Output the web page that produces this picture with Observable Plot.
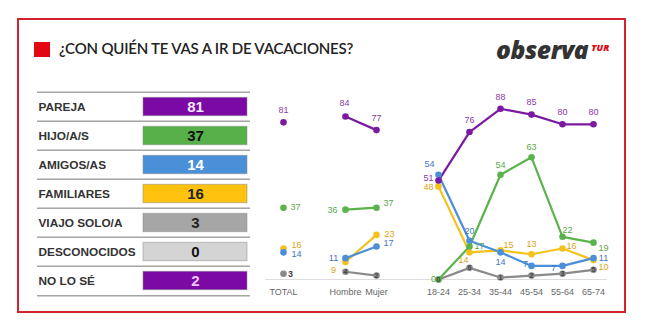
<!DOCTYPE html>
<html><head><meta charset="utf-8">
<script src="https://cdn.jsdelivr.net/npm/d3@7"></script>
<script src="https://cdn.jsdelivr.net/npm/@observablehq/plot@0.6"></script>
<style>
body{margin:0;width:656px;height:330px;position:relative;background:#fff;overflow:hidden;font-family:"Liberation Sans",Arial,sans-serif}
#frame{position:absolute;left:17px;top:18px;width:605px;height:291px;border:2px solid #d3222a}
#sq{position:absolute;left:34px;top:42px;width:16px;height:15px;background:#e30613}
#title{position:absolute;left:59px;top:39px;font-family:Lato,"Open Sans",sans-serif;font-size:15px;font-weight:600;color:#222;letter-spacing:-0.2px}
#logo{position:absolute;left:496px;top:33px;font-family:"Open Sans",sans-serif;font-style:italic;font-weight:800;font-size:24.5px;color:#333;letter-spacing:-0.4px}
#logo span{font-size:9.5px;color:#e30613;vertical-align:8px;margin-left:3px;letter-spacing:0}
#left{position:absolute;left:35px;top:87px}
#right{position:absolute;left:260px;top:80px}
</style></head>
<body>
<div id="frame"></div>
<div id="sq"></div>
<div id="title">¿CON QUIÉN TE VAS A IR DE VACACIONES?</div>
<div id="logo">observa<span>TUR</span></div>
<div id="left"></div>
<div id="right"></div>
<script>
// ---- data ----
const categories = ["PAREJA","HIJO/A/S","AMIGOS/AS","FAMILIARES","VIAJO SOLO/A","DESCONOCIDOS","NO LO SÉ"];
const totals = [81,37,14,16,3,0,2];
const groups = ["TOTAL","Hombre","Mujer","18-24","25-34","35-44","45-54","55-64","65-74"];
const pareja     = [81,84,77,51,76,88,85,80,80];
const hijos      = [37,36,37,0,17,54,63,22,19];
const amigos     = [14,11,17,54,20,14,7,7,11];
const familiares = [16,9,23,48,14,15,13,16,10];
const solo       = [3,4,2,0,6,1,2,3,5];

// ---- styles ----
const barColors = ["#7b0aa5","#57b04a","#4a90d9","#ffc20e","#a6a6a6","#d4d4d4","#7b0aa5"];
const barText = ["#f6e6ff","#111","#ffffff","#222","#222","#111","#f2c9ff"];
const lineColors = {"PAREJA":"#7a1aa0","HIJO/A/S":"#5bb34c","AMIGOS/AS":"#4a8fd8","FAMILIARES":"#f5c21b","VIAJO SOLO/A":"#8a8a8a"};
const labelColors = {"PAREJA":"#8a3aaa","HIJO/A/S":"#5aa84c","AMIGOS/AS":"#3f76c0","FAMILIARES":"#d9a514","VIAJO SOLO/A":"#444"};
// label offsets [dx, dy] per series and column
const offs = {
  "PAREJA":      [[0,-12],[-1,-13],[0,-12],[-10,-2],[0,-12],[0,-12],[0,-12],[0,-12],[0,-12]],
  "HIJO/A/S":    [[12,-1],[-13,0],[12,-5],[-5,0],[10,0],[0,-10],[0,-10],[5,-7],[10,5]],
  "AMIGOS/AS":   [[13,2],[-12,0],[12,-3],[-9,-11],[0,-10],[0,10],[-6,-2],[-9,2],[10,0]],
  "FAMILIARES":  [[13,-3],[-12,8],[13,-1],[-10,1],[-6,8],[8,-5],[0,-10],[9,-2],[10,7]],
  "VIAJO SOLO/A":[[7,0],[0,0],[0,0],[0,0],[0,0],[0,0],[0,0],[0,0],[0,0]]
};

// ---- left table ----
const tbl = categories.map((c,i)=>({cat:c, value:totals[i], i}));
const rowH = 208/7;
const left = Plot.plot({
  width:218, height:212, marginTop:2, marginBottom:2, marginLeft:0, marginRight:0,
  x:{type:"band", domain:["name","val"], range:[0,212], padding:0, axis:null},
  y:{type:"band", domain:categories, padding:0, axis:null},
  style:{fontFamily:"'Liberation Sans',Arial,sans-serif", background:"transparent"},
  marks:[
    Plot.ruleY(tbl, {y:"cat", dy:-rowH/2, stroke:"#777", strokeWidth:1, insetLeft:2, insetRight:3}),
    Plot.ruleY(tbl.slice(-1), {y:"cat", dy:rowH/2, stroke:"#777", strokeWidth:1, insetLeft:2, insetRight:3}),
    Plot.cell(tbl, {x:()=>"val", y:"cat", fill:(d)=>barColors[d.i], stroke:"#888", strokeOpacity:0.5, insetTop:5.3, insetBottom:5.3, insetLeft:2}),
    Plot.text(tbl, {x:()=>"name", y:"cat", text:"cat", textAnchor:"start", dx:-50, fill:"#333", fontWeight:"bold", fontSize:11.8}),
    Plot.text(tbl, {x:()=>"val", y:"cat", text:(d)=>String(d.value), dx:1, fill:(d)=>barText[d.i], fontWeight:"bold", fontSize:15})
  ]
});
document.getElementById("left").appendChild(left);

// ---- right chart ----
const seriesData = [["PAREJA",pareja],["HIJO/A/S",hijos],["AMIGOS/AS",amigos],["FAMILIARES",familiares],["VIAJO SOLO/A",solo]];
const segOf = (g)=> g==="TOTAL" ? "t" : (g==="Hombre"||g==="Mujer") ? "g" : "a";
const rows = [];
for (const [s, vals] of seriesData) {
  vals.forEach((v,i)=>rows.push({series:s, group:groups[i], seg:segOf(groups[i]), value:v, dx:offs[s][i][0], dy:offs[s][i][1]}));
}
const xDomain = ["TOTAL","_a","Hombre","Mujer","_b","18-24","25-34","35-44","45-54","55-64","65-74"];
const order = ["VIAJO SOLO/A","FAMILIARES","AMIGOS/AS","HIJO/A/S","PAREJA"];
const sorted = rows.slice().sort((a,b)=>order.indexOf(a.series)-order.indexOf(b.series));
const labelMarks = sorted.map(d => Plot.text([d], {
  x:"group", y:"value", text:(d)=>String(d.value), dx:d.dx, dy:d.dy,
  fill:labelColors[d.series], fontSize: d.series==="VIAJO SOLO/A" && d.group!=="TOTAL" ? 7 : 9,
  fontWeight: d.series==="VIAJO SOLO/A" ? "bold" : "normal"
}));
const right = Plot.plot({
  width:356, height:225, marginLeft:23, marginRight:23, marginTop:5, marginBottom:26,
  x:{type:"point", domain:xDomain, padding:0, tickSize:0, tickPadding:9, tickFormat:(d)=>d.startsWith("_")?"":d, label:null},
  y:{domain:[0,100], axis:null},
  style:{fontFamily:"'Liberation Sans',Arial,sans-serif", fontSize:"9px", color:"#666", background:"transparent"},
  marks:[
    Plot.ruleY([0], {stroke:"#ddd", insetLeft:-18, insetRight:-14}),
    Plot.line(sorted, {x:"group", y:"value", z:(d)=>d.series+d.seg, stroke:(d)=>lineColors[d.series], strokeWidth:2.2}),
    Plot.dot(sorted, {x:"group", y:"value", r:3.3, fill:(d)=>lineColors[d.series]}),
    ...labelMarks
  ]
});
document.getElementById("right").appendChild(right);
</script>
</body></html>
